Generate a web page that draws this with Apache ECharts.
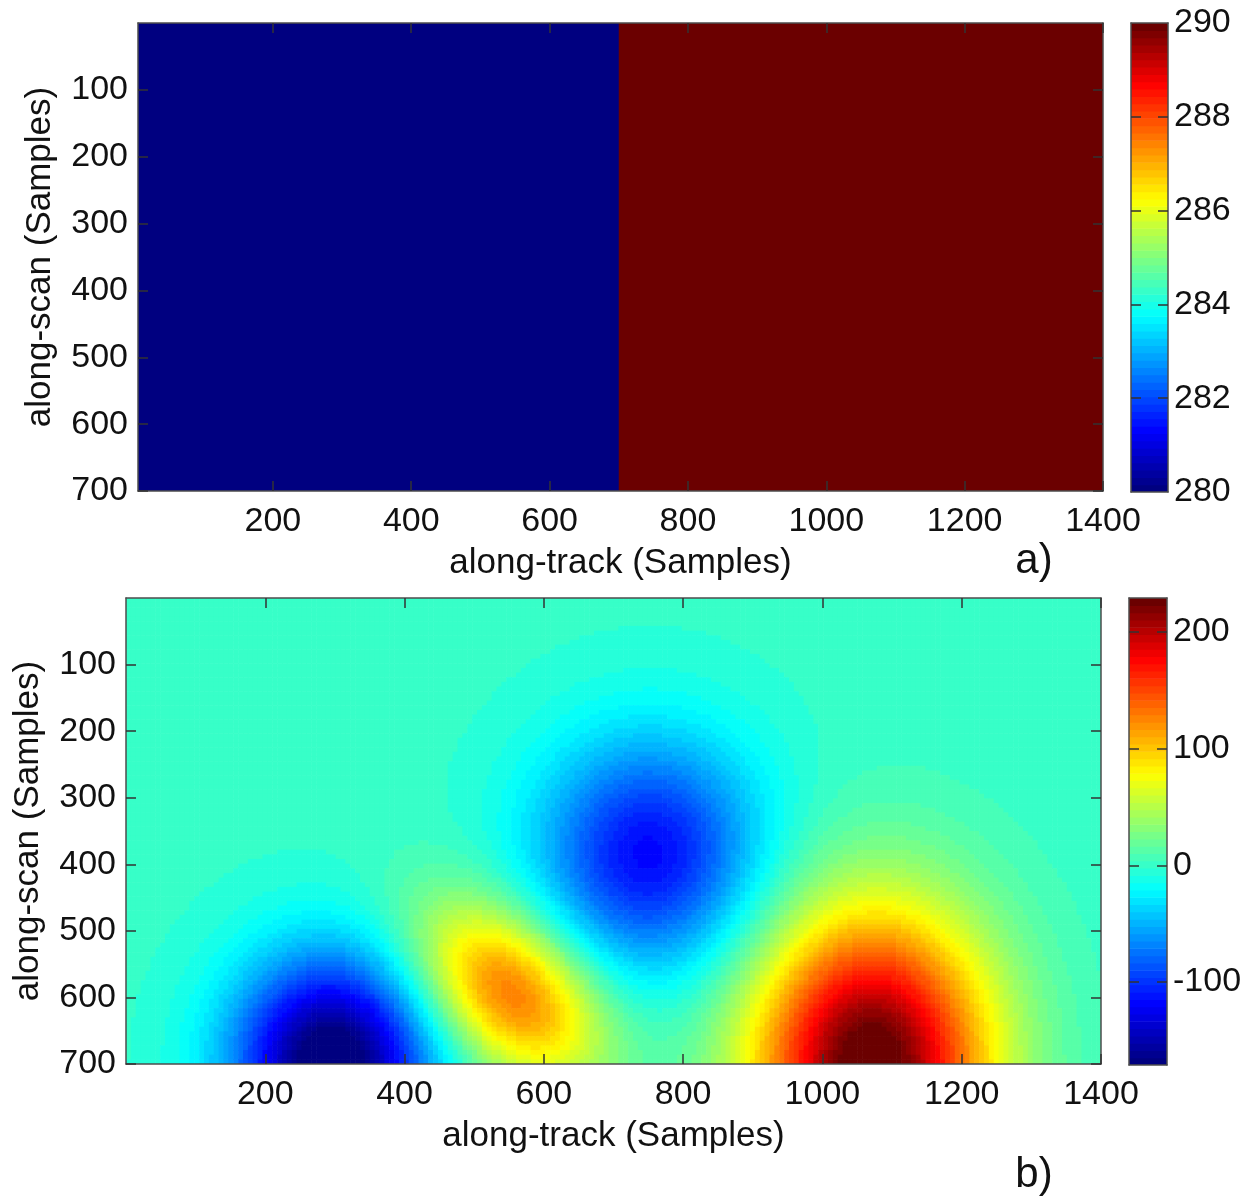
<!DOCTYPE html>
<html>
<head>
<meta charset="utf-8">
<script src="https://cdn.jsdelivr.net/npm/echarts@6/dist/echarts.min.js"></script>
<style>
  html, body { margin: 0; padding: 0; background: #fff; }
  #chart { width: 1253px; height: 1200px; }
</style>
</head>
<body>
<div id="chart"></div>
<script>
// panel a): two flat halves of the scene
const halfStart = [0, 700]
const halfEnd = [700, 1400]
const halfValue = [280, 290]

// panel b): smooth field, read as four blobs (centre, peak, spread, tilt in degrees)
const blobX = [295, 552, 752, 1070]
const blobY = [700, 592, 385, 700]
const blobPeak = [-188, 135, -118, 240]
const blobSpreadX = [98, 110, 112, 120]
const blobSpreadY = [112, 72, 122, 160]
const blobTilt = [0, 45, 0, 0]

const trackTicks = [200, 400, 600, 800, 1000, 1200, 1400]
const scanTicks = [100, 200, 300, 400, 500, 600, 700]
const barLabelsA = [280, 282, 284, 286, 288, 290]
const barTicksA = [282, 284, 286, 288]
const barLabelsB = [-100, 0, 100, 200]
const rangeA = [280, 290]
const rangeB = [-171, 229]

const FONT = 'Liberation Sans, Arial, Helvetica, sans-serif'
const LEVELS = 64
const STEP = 7

function clamp01 (v) { return Math.max(0, Math.min(1, v)) }

// jet colormap, ends a little darker as in the print
function jet (t) {
  const r = t > 0.875 ? 1 - (t - 0.875) * 4.64 : clamp01(4 * t - 1.5)
  const g = clamp01(1.5 - Math.abs(4 * t - 2))
  const b = t < 0.125 ? 0.5 + t * 4 : clamp01(2.5 - 4 * t)
  return 'rgb(' + Math.round(r * 255) + ',' + Math.round(g * 255) + ',' + Math.round(Math.min(1, b) * 255) + ')'
}
const jetColors = []
for (let i = 0; i < LEVELS; i++) jetColors.push(jet(i / (LEVELS - 1)))

function fieldAt (x, y) {
  let v = 0
  for (let i = 0; i < blobX.length; i++) {
    const a = blobTilt[i] * Math.PI / 180
    const dx = x - blobX[i]
    const dy = y - blobY[i]
    const u = dx * Math.cos(a) + dy * Math.sin(a)
    const w = -dx * Math.sin(a) + dy * Math.cos(a)
    v += blobPeak[i] * Math.exp(-u * u / (2 * blobSpreadX[i] * blobSpreadX[i]) - w * w / (2 * blobSpreadY[i] * blobSpreadY[i]))
  }
  return v
}

const cellsA = halfValue.map((v, i) => [halfStart[i], 0, halfEnd[i], 700, v])

const cellsB = []
for (let x = 0; x < 1400; x += STEP) {
  for (let y = 0; y < 700; y += STEP) {
    const v = fieldAt(x + STEP / 2, y + STEP / 2)
    cellsB.push([x, y, x + STEP, y + STEP, Math.max(rangeB[0], Math.min(rangeB[1], v))])
  }
}

function colorBands (range) {
  const out = []
  const w = (range[1] - range[0]) / LEVELS
  for (let i = 0; i < LEVELS; i++) {
    const lo = range[0] + i * w
    out.push([0, lo, 1, lo + w, lo + w / 2])
  }
  return out
}

function drawCell (params, api) {
  const p = api.coord([api.value(0), api.value(1)])
  const q = api.coord([api.value(2), api.value(3)])
  return {
    type: 'rect',
    shape: {
      x: Math.min(p[0], q[0]),
      y: Math.min(p[1], q[1]),
      width: Math.abs(q[0] - p[0]) + 0.6,
      height: Math.abs(q[1] - p[1]) + 0.6
    },
    style: { fill: api.visual('color') }
  }
}

// onZero off: every axis line stays on its own edge of the box
const frameLine = { show: true, onZero: false, lineStyle: { color: '#4d4d4d', width: 1.5 } }
const nameStyle = { fontSize: 35, fontFamily: FONT, color: '#111' }

function ticks (values) {
  return { show: true, inside: true, length: 10, customValues: values, lineStyle: { color: '#333', width: 1.5 } }
}
function labels (values, margin) {
  return {
    show: true, customValues: values, margin: margin, fontSize: 34, fontFamily: FONT, color: '#111',
    formatter: v => String(v)
  }
}

function trackAxis (gridIndex, position, min, withLabels) {
  const ax = {
    type: 'value', gridIndex, position, min, max: 1400, z: 10,
    axisLine: frameLine,
    axisTick: ticks(trackTicks),
    axisLabel: withLabels ? labels(trackTicks, 14) : { show: false },
    splitLine: { show: false }
  }
  if (withLabels) {
    ax.name = 'along-track (Samples)'
    ax.nameLocation = 'middle'
    ax.nameGap = 55
    ax.nameTextStyle = nameStyle
  }
  return ax
}

function scanAxis (gridIndex, position, withLabels) {
  const ax = {
    type: 'value', gridIndex, position, min: 0, max: 700, inverse: true, z: 10,
    axisLine: frameLine,
    axisTick: ticks(scanTicks),
    axisLabel: withLabels ? labels(scanTicks, 10) : { show: false },
    splitLine: { show: false }
  }
  if (withLabels) {
    ax.name = 'along-scan (Samples)'
    ax.nameLocation = 'middle'
    ax.nameGap = 80
    ax.nameTextStyle = nameStyle
  }
  return ax
}

function barFrameX (gridIndex, position) {
  return {
    type: 'value', gridIndex, position, min: 0, max: 1, z: 10,
    axisLine: frameLine, axisTick: { show: false }, axisLabel: { show: false }, splitLine: { show: false }
  }
}

function barAxisY (gridIndex, position, range, tickValues, labelValues) {
  return {
    type: 'value', gridIndex, position, min: range[0], max: range[1], z: 10,
    axisLine: frameLine,
    axisTick: ticks(tickValues),
    axisLabel: labelValues ? labels(labelValues, 6) : { show: false },
    splitLine: { show: false }
  }
}

const option = {
  animation: false,
  backgroundColor: '#fff',
  grid: [
    { left: 138, top: 23, width: 965, height: 468, outerBoundsMode: 'none' },
    { left: 1131, top: 23, width: 37, height: 469, outerBoundsMode: 'none' },
    { left: 126, top: 598, width: 975, height: 466, outerBoundsMode: 'none' },
    { left: 1129, top: 598, width: 38, height: 467, outerBoundsMode: 'none' }
  ],
  xAxis: [
    trackAxis(0, 'bottom', 5, true),
    trackAxis(0, 'top', 5, false),
    barFrameX(1, 'bottom'),
    barFrameX(1, 'top'),
    trackAxis(2, 'bottom', 0, true),
    trackAxis(2, 'top', 0, false),
    barFrameX(3, 'bottom'),
    barFrameX(3, 'top')
  ],
  yAxis: [
    scanAxis(0, 'left', true),
    scanAxis(0, 'right', false),
    barAxisY(1, 'right', rangeA, barTicksA, barLabelsA),
    barAxisY(1, 'left', rangeA, barTicksA, null),
    scanAxis(2, 'left', true),
    scanAxis(2, 'right', false),
    barAxisY(3, 'right', rangeB, barLabelsB, barLabelsB),
    barAxisY(3, 'left', rangeB, barLabelsB, null)
  ],
  visualMap: [
    { type: 'piecewise', show: false, min: rangeA[0], max: rangeA[1], splitNumber: LEVELS, precision: 5, dimension: 4, seriesIndex: [0, 1], inRange: { color: jetColors } },
    { type: 'piecewise', show: false, min: rangeB[0], max: rangeB[1], splitNumber: LEVELS, precision: 5, dimension: 4, seriesIndex: [2, 3], inRange: { color: jetColors } }
  ],
  series: [
    { type: 'custom', xAxisIndex: 0, yAxisIndex: 0, renderItem: drawCell, data: cellsA, clip: true, silent: true, progressive: 0 },
    { type: 'custom', xAxisIndex: 2, yAxisIndex: 2, renderItem: drawCell, data: colorBands(rangeA), clip: true, silent: true, progressive: 0 },
    { type: 'custom', xAxisIndex: 4, yAxisIndex: 4, renderItem: drawCell, data: cellsB, clip: true, silent: true, progressive: 0 },
    { type: 'custom', xAxisIndex: 6, yAxisIndex: 6, renderItem: drawCell, data: colorBands(rangeB), clip: true, silent: true, progressive: 0 }
  ],
  graphic: [
    { type: 'text', style: { text: 'a)', x: 1034, y: 561, align: 'center', verticalAlign: 'middle', font: '42px ' + FONT, fill: '#111' } },
    { type: 'text', style: { text: 'b)', x: 1034, y: 1175, align: 'center', verticalAlign: 'middle', font: '42px ' + FONT, fill: '#111' } }
  ]
}

const chart = echarts.init(document.getElementById('chart'))
chart.setOption(option)
</script>
</body>
</html>
